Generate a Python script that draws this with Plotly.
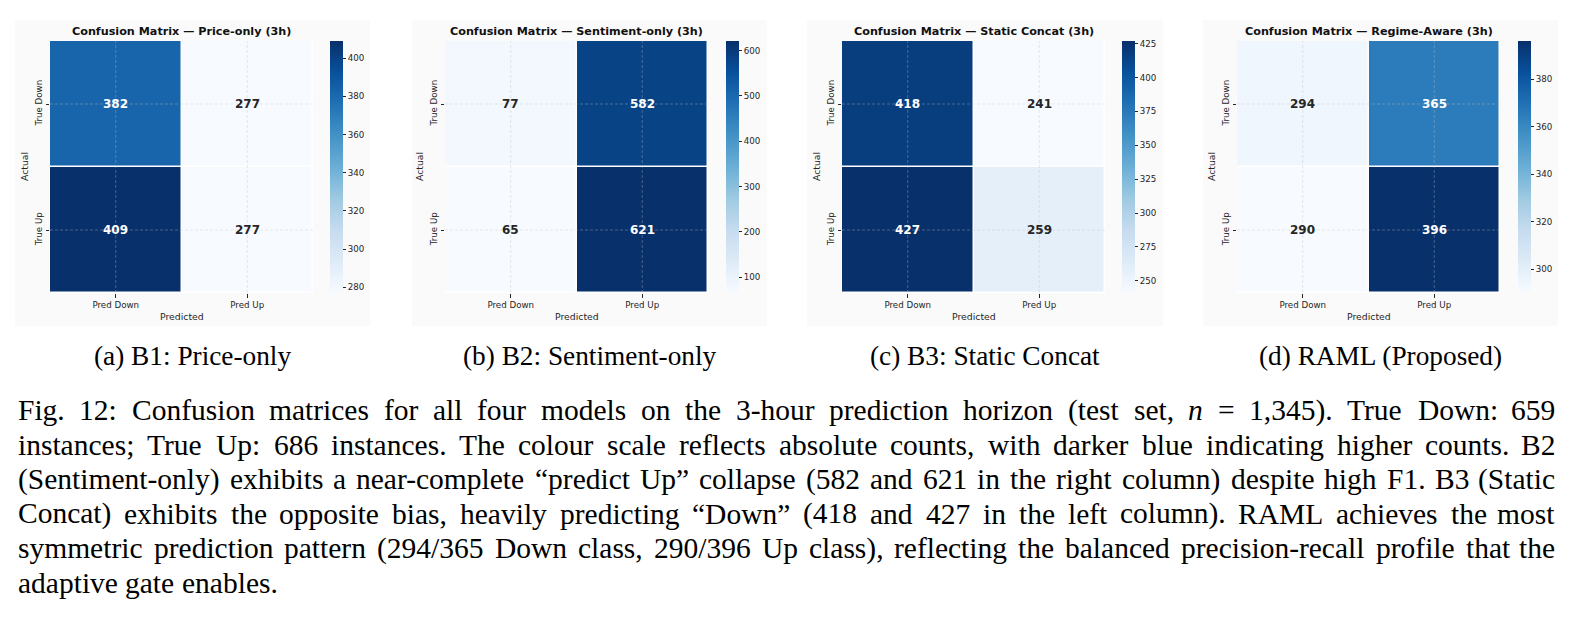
import plotly.graph_objects as go
import re

# ---------------- data ----------------
pred_labels = ["Pred Down", "Pred Up"]
actual_labels = ["True Down", "True Up"]

panel_titles = [
    "Confusion Matrix — Price-only (3h)",
    "Confusion Matrix — Sentiment-only (3h)",
    "Confusion Matrix — Static Concat (3h)",
    "Confusion Matrix — Regime-Aware (3h)",
]
subcaptions = [
    "(a) B1: Price-only",
    "(b) B2: Sentiment-only",
    "(c) B3: Static Concat",
    "(d) RAML (Proposed)",
]

cm_price = [[382, 277], [409, 277]]
cm_sentiment = [[77, 582], [65, 621]]
cm_static = [[418, 241], [427, 259]]
cm_raml = [[294, 365], [290, 396]]

cbar_ticks_price = [280, 300, 320, 340, 360, 380, 400]
cbar_ticks_sentiment = [100, 200, 300, 400, 500, 600]
cbar_ticks_static = [250, 275, 300, 325, 350, 375, 400, 425]
cbar_ticks_raml = [300, 320, 340, 360, 380]

caption_lines = [
    "Fig. 12: Confusion matrices for all four models on the 3-hour prediction horizon (test set, <i>n</i> = 1,345). True Down: 659",
    "instances; True Up: 686 instances. The colour scale reflects absolute counts, with darker blue indicating higher counts. B2",
    "(Sentiment-only) exhibits a near-complete “predict Up” collapse (582 and 621 in the right column) despite high F1. B3 (Static",
    "Concat) exhibits the opposite bias, heavily predicting “Down” (418 and 427 in the left column). RAML achieves the most",
    "symmetric prediction pattern (294/365 Down class, 290/396 Up class), reflecting the balanced precision-recall profile that the",
    "adaptive gate enables.",
]

matrices = [cm_price, cm_sentiment, cm_static, cm_raml]
cbar_ticks = [cbar_ticks_price, cbar_ticks_sentiment, cbar_ticks_static, cbar_ticks_raml]

# ---------------- layout geometry (pixels) ----------------
W, H = 1578, 620
heat_left = [50, 445, 842, 1237]
heat_w = 263
heat_top, heat_bot = 41, 293
cbar_left = [330, 726, 1122, 1518]
cbar_thick = 13
bg_left = [15, 412, 807, 1203]
bg_right = [370, 767, 1163, 1558]
bg_top, bg_bot = 20, 326

def px(x):
    return x / W

def py(y):
    return 1 - y / H

# matplotlib "Blues"
blues = [
    [0.0, "rgb(247,251,255)"], [0.125, "rgb(222,235,247)"], [0.25, "rgb(198,219,239)"],
    [0.375, "rgb(158,202,225)"], [0.5, "rgb(107,174,214)"], [0.625, "rgb(66,146,198)"],
    [0.75, "rgb(33,113,181)"], [0.875, "rgb(8,81,156)"], [1.0, "rgb(8,48,107)"],
]

SANS = "DejaVu Sans"
SERIF = "Liberation Serif"
DARK = "#262626"
GRID = "rgba(190,190,190,0.45)"

fig = go.Figure()
shapes = []
annotations = []
layout_axes = {}

for k in range(4):
    n = k + 1
    xa = "x" if n == 1 else f"x{n}"
    ya = "y" if n == 1 else f"y{n}"
    z = matrices[k]
    flat = [v for row in z for v in row]
    zmin, zmax = min(flat), max(flat)

    # panel background + white plot area
    shapes.append(dict(type="rect", xref="paper", yref="paper",
                       x0=px(bg_left[k]), x1=px(bg_right[k]), y0=py(bg_bot), y1=py(bg_top),
                       fillcolor="#fafafa", line=dict(width=0), layer="below"))
    shapes.append(dict(type="rect", xref="paper", yref="paper",
                       x0=px(heat_left[k]), x1=px(heat_left[k] + heat_w), y0=py(heat_bot), y1=py(heat_top),
                       fillcolor="white", line=dict(width=0), layer="below"))

    fig.add_trace(go.Heatmap(
        z=z, x=pred_labels, y=actual_labels,
        colorscale=blues, zmin=zmin, zmax=zmax,
        xgap=1.5, ygap=1.5, hoverinfo="skip",
        xaxis=xa, yaxis=ya,
        colorbar=dict(
            x=px(cbar_left[k]), xanchor="left", xpad=0,
            y=py((heat_top + heat_bot) / 2), yanchor="middle", ypad=0,
            len=(heat_bot - heat_top) / H, lenmode="fraction",
            thickness=cbar_thick, thicknessmode="pixels",
            outlinewidth=0,
            tickvals=cbar_ticks[k],
            ticks="outside", ticklen=3.5, tickwidth=0.8, tickcolor=DARK,
            tickfont=dict(family=SANS, size=8.7, color=DARK),
        ),
    ))

    xkey = "xaxis" if n == 1 else f"xaxis{n}"
    ykey = "yaxis" if n == 1 else f"yaxis{n}"
    layout_axes[xkey] = dict(
        domain=[px(heat_left[k]), px(heat_left[k] + heat_w)], anchor=ya,
        showgrid=False, zeroline=False, showline=False,
        ticks="outside", ticklen=3.5, tickwidth=0.8, tickcolor=DARK,
        tickfont=dict(family=SANS, size=8.7, color=DARK), fixedrange=True,
    )
    layout_axes[ykey] = dict(
        domain=[py(heat_bot), py(heat_top)], anchor=xa, autorange="reversed",
        showgrid=False, zeroline=False, showline=False,
        ticks="outside", ticklen=3.5, tickwidth=0.8, tickcolor=DARK, tickangle=-90,
        tickfont=dict(family=SANS, size=8.7, color=DARK), fixedrange=True,
    )

    # dashed grid lines above cells
    for i in range(len(pred_labels)):
        shapes.append(dict(type="line", xref=xa, yref=f"{ya} domain", x0=i, x1=i, y0=0, y1=1,
                           line=dict(color=GRID, width=0.8, dash="3px,2px"), layer="above"))
    for j in range(len(actual_labels)):
        shapes.append(dict(type="line", xref=f"{xa} domain", yref=ya, x0=0, x1=1, y0=j, y1=j,
                           line=dict(color=GRID, width=0.8, dash="3px,2px"), layer="above"))

    # cell annotations
    for j, alab in enumerate(actual_labels):
        for i, plab in enumerate(pred_labels):
            v = z[j][i]
            t = (v - zmin) / (zmax - zmin)
            col = "white" if t > 0.45 else DARK
            annotations.append(dict(xref=xa, yref=ya, x=plab, y=alab, text=str(v), showarrow=False,
                                    font=dict(family=SANS, size=12, color=col, weight="bold")))

    cx = heat_left[k] + heat_w / 2
    annotations.append(dict(xref="paper", yref="paper", x=px(cx), y=py(31), text=panel_titles[k],
                            showarrow=False, xanchor="center", yanchor="middle",
                            font=dict(family=SANS, size=11.2, color="#111111", weight="bold")))
    annotations.append(dict(xref="paper", yref="paper", x=px(cx), y=py(316), text="Predicted",
                            showarrow=False, xanchor="center", yanchor="middle",
                            font=dict(family=SANS, size=9.3, color=DARK)))
    annotations.append(dict(xref="paper", yref="paper", x=px(heat_left[k] - 25), y=py((heat_top + heat_bot) / 2),
                            text="Actual", textangle=-90, showarrow=False, xanchor="center", yanchor="middle",
                            font=dict(family=SANS, size=9.3, color=DARK)))
    # subcaption
    annotations.append(dict(xref="paper", yref="paper", x=px((bg_left[k] + bg_right[k]) / 2), y=py(356),
                            text=subcaptions[k], showarrow=False, xanchor="center", yanchor="middle",
                            font=dict(family=SERIF, size=27.3, color="black")))

# ---------------- justified caption ----------------
TNR = {
    'a': 444, 'b': 500, 'c': 444, 'd': 500, 'e': 444, 'f': 333, 'g': 500, 'h': 500, 'i': 278, 'j': 278,
    'k': 500, 'l': 278, 'm': 778, 'n': 500, 'o': 500, 'p': 500, 'q': 500, 'r': 333, 's': 389, 't': 278,
    'u': 500, 'v': 500, 'w': 722, 'x': 500, 'y': 500, 'z': 444,
    'A': 722, 'B': 667, 'C': 667, 'D': 722, 'E': 611, 'F': 556, 'G': 722, 'H': 722, 'I': 333, 'J': 389,
    'K': 722, 'L': 611, 'M': 889, 'N': 722, 'O': 722, 'P': 556, 'Q': 722, 'R': 667, 'S': 556, 'T': 611,
    'U': 722, 'V': 722, 'W': 944, 'X': 722, 'Y': 722, 'Z': 611,
    ' ': 250, '.': 250, ',': 250, ':': 278, ';': 278, '(': 333, ')': 333, '-': 333, '/': 278,
    '=': 564, '“': 444, '”': 444,
}
for d in "0123456789":
    TNR[d] = 500

cap_fs = 29.5
cap_left, cap_right = 17, 1556
cap_first_base = 420
cap_gap = 34.6

def text_w(s):
    s = re.sub(r"<[^>]+>", "", s)
    return sum(TNR.get(c, 500) for c in s) / 1000 * cap_fs

for li, line in enumerate(caption_lines):
    words = line.split(" ")
    widths = [text_w(w) for w in words]
    base = cap_first_base + li * cap_gap
    ymid = base - 0.3375 * cap_fs
    last = li == len(caption_lines) - 1
    gap = TNR[' '] / 1000 * cap_fs if last else (cap_right - cap_left - sum(widths)) / (len(words) - 1)
    x = cap_left
    for wi, (w, wd) in enumerate(zip(words, widths)):
        if (not last) and wi == len(words) - 1:
            annotations.append(dict(xref="paper", yref="paper", x=px(cap_right), y=py(ymid), text=w,
                                    showarrow=False, xanchor="right", yanchor="middle", borderpad=0,
                                    font=dict(family=SERIF, size=cap_fs, color="black")))
        else:
            annotations.append(dict(xref="paper", yref="paper", x=px(x), y=py(ymid), text=w,
                                    showarrow=False, xanchor="left", yanchor="middle", borderpad=0,
                                    font=dict(family=SERIF, size=cap_fs, color="black")))
        x += wd + gap

fig.update_layout(
    width=W, height=H,
    margin=dict(l=0, r=0, t=0, b=0, pad=0),
    paper_bgcolor="white", plot_bgcolor="white",
    font=dict(family=SANS, color=DARK),
    showlegend=False,
    shapes=shapes, annotations=annotations,
    **layout_axes,
)

fig.write_html("out.html", post_script="document.body.style.margin='0';", config={"displayModeBar": False})
